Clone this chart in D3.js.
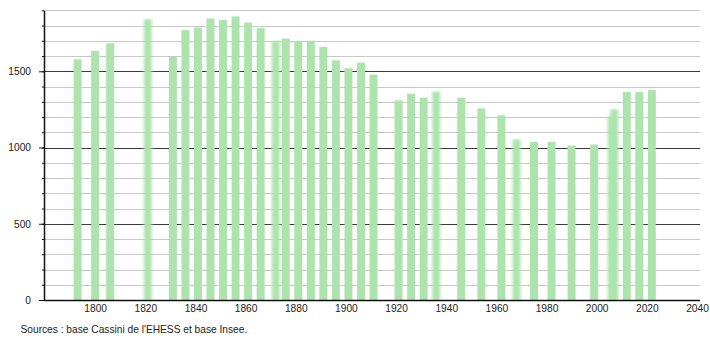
<!DOCTYPE html>
<html>
<head>
    <script src="https://d3js.org/d3.v7.min.js"></script>
    <style>
        body { margin: 0; background: #fff; }
        text { font-family: "Liberation Sans", Arial, sans-serif; fill: #222; }
    </style>
</head>
<body>
    <div id="chart"></div>

    <script>
        // census years and population
        var years = [1793, 1800, 1806, 1821, 1831, 1836, 1841, 1846, 1851, 1856,
                     1861, 1866, 1872, 1876, 1881, 1886, 1891, 1896, 1901, 1906,
                     1911, 1921, 1926, 1931, 1936, 1946, 1954, 1962, 1968, 1975,
                     1982, 1990, 1999, 2006, 2007, 2012, 2017, 2022];
        var population = [1579, 1634, 1684, 1842, 1594, 1770, 1787, 1846, 1836, 1860,
                          1820, 1783, 1700, 1715, 1700, 1700, 1660, 1572, 1520, 1557,
                          1478, 1309, 1353, 1327, 1366, 1327, 1257, 1211, 1053, 1037,
                          1037, 1013, 1020, 1206, 1250, 1364, 1364, 1377];
        // bars that appear smudged in the source image
        var blurred = [1821, 1872, 1936, 1968, 2006, 2007];

        var xTicks = [1800, 1820, 1840, 1860, 1880, 1900, 1920, 1940, 1960, 1980, 2000, 2020, 2040];
        var yMajor = [0, 500, 1000, 1500];
        var yMinor = d3.range(0, 2000, 100);
        var source = "Sources : base Cassini de l'EHESS et base Insee.";

        var data = years.map(function(y, i) { return { year: y, value: population[i] }; });

        var width = 710, height = 340;
        var plotLeft = 44, plotRight = 700, plotTop = 10.3, plotBottom = 300;

        var svg = d3.select("#chart").append("svg")
            .attr("width", width)
            .attr("height", height);

        var defs = svg.append("defs");
        defs.append("filter").attr("id", "smudge")
            .attr("x", "-50%").attr("width", "200%")
            .attr("y", "-5%").attr("height", "110%")
            .append("feGaussianBlur").attr("stdDeviation", "1.4 0.8");

        var x = d3.scaleLinear().domain([1780, 2042]).range([45, 702]);
        var y = d3.scaleLinear().domain([0, 1900]).range([plotBottom, plotTop]);

        // grid lines
        svg.append("g").selectAll("line")
            .data(yMinor.filter(function(v) { return v > 0 && yMajor.indexOf(v) < 0; }))
            .enter().append("line")
            .attr("x1", plotLeft).attr("x2", plotRight)
            .attr("y1", function(d) { return Math.round(y(d)) + 0.5; })
            .attr("y2", function(d) { return Math.round(y(d)) + 0.5; })
            .attr("stroke", "#c8c8c8");

        svg.append("g").selectAll("line")
            .data(yMajor.filter(function(v) { return v > 0; }))
            .enter().append("line")
            .attr("x1", plotLeft).attr("x2", plotRight)
            .attr("y1", function(d) { return Math.round(y(d)) + 0.5; })
            .attr("y2", function(d) { return Math.round(y(d)) + 0.5; })
            .attr("stroke", "#3a3a3a");

        // bars
        var barW = 8;
        svg.append("g").selectAll("rect")
            .data(data)
            .enter().append("rect")
            .attr("x", function(d) { return x(d.year) - barW / 2; })
            .attr("width", barW)
            .attr("y", function(d) { return y(d.value); })
            .attr("height", function(d) { return plotBottom - y(d.value); })
            .attr("fill", "#ade4ad")
            .attr("filter", function(d) { return blurred.indexOf(d.year) >= 0 ? "url(#smudge)" : null; });

        // y axis: minor ticks, then major ticks with labels
        var yMinorAxis = d3.axisLeft(y).tickValues(yMinor).tickSize(2).tickFormat("").tickSizeOuter(0);
        svg.append("g")
            .attr("transform", "translate(" + plotLeft + ",0)")
            .call(yMinorAxis)
            .call(function(g) { g.selectAll("line").attr("stroke", "#111"); g.select(".domain").attr("stroke", "#111").attr("stroke-width", 1.5); });

        var yAxis = d3.axisLeft(y).tickValues(yMajor).tickSize(5).tickPadding(8).tickSizeOuter(0).tickFormat(d3.format("d"));
        svg.append("g")
            .attr("transform", "translate(" + plotLeft + ",0)")
            .call(yAxis)
            .call(function(g) {
                g.select(".domain").remove();
                g.selectAll("line").attr("stroke", "#111");
                g.selectAll("text").style("font-size", "10.2px").style("fill", "#222")
                    .style("font-family", "'Liberation Sans', Arial, sans-serif");
            });

        // x axis
        var xAxis = d3.axisBottom(x).tickValues(xTicks).tickSize(0).tickPadding(5).tickFormat(d3.format("d"));
        svg.append("g")
            .attr("transform", "translate(0," + plotBottom + ")")
            .call(xAxis)
            .call(function(g) {
                g.select(".domain").attr("d", "M" + plotLeft + ",0.5H" + plotRight).attr("stroke", "#111").attr("stroke-width", 1.5);
                g.selectAll("text").style("font-size", "10.2px").style("fill", "#222")
                    .style("font-family", "'Liberation Sans', Arial, sans-serif");
            });

        svg.append("text")
            .attr("x", 20.5)
            .attr("y", 333)
            .style("font-size", "10.2px")
            .text(source);
    </script>
</body>
</html>
